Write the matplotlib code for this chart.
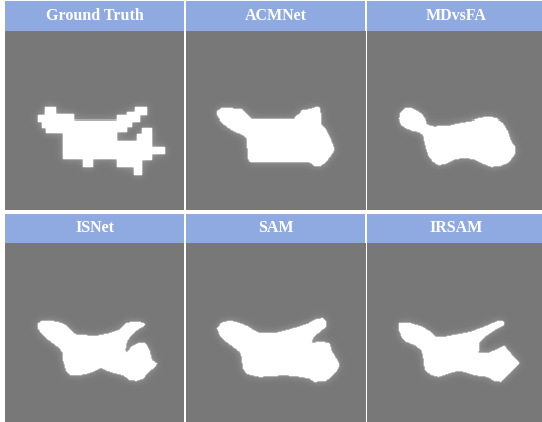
import numpy as np
import matplotlib
matplotlib.use("Agg")
import matplotlib.pyplot as plt
from matplotlib.path import Path

# panel titles
titles = ['Ground Truth', 'ACMNet', 'MDvsFA', 'ISNet', 'SAM', 'IRSAM']

# mask outlines, (x, y) in pixels of each 179 px panel image
gt_outline = [(40, 76.7), (51, 76.7), (51, 84), (69.3, 84), (69.3, 90), (111.7, 90),
              (111.7, 84.7), (121.7, 84.7), (121.7, 82.3), (130, 82.3), (130, 76.7),
              (141.7, 76.7), (141.7, 84.7), (135, 84.7), (135, 90.7), (126.7, 90.7),
              (126.7, 95.7), (121.7, 95.7), (121.7, 100.7), (112.3, 100.7), (112.3, 110),
              (131.7, 110), (131.7, 103.3), (136.7, 103.3), (136.7, 97.3), (146.7, 97.3),
              (146.7, 115.7), (160, 115.7), (160, 123.3), (146.7, 123.3), (146.7, 129),
              (136.7, 129), (136.7, 144), (129, 144), (129, 135.7), (111.7, 135.7),
              (111.7, 128), (87.7, 128), (87.7, 135.7), (77.7, 135.7), (77.7, 128),
              (58.3, 128), (58.3, 102.3), (41, 102.3), (41, 97.3), (36.7, 97.3),
              (36.7, 91.3), (33.3, 91.3), (33.3, 84.7), (40, 84.7)]

acmnet_outline = [(31.3, 80.7), (35.7, 78.3), (44, 78.3), (55.7, 79), (59, 82.3), (64, 87.3),
                  (65.7, 89), (107.3, 89), (109, 85.7), (113.3, 84), (114, 80.7), (124, 79),
                  (130, 76.7), (133.3, 78), (134, 94), (139, 99), (143.3, 107.3), (145.7, 114),
                  (147.3, 119), (144, 124), (139, 130.7), (134, 134.7), (127.3, 134.7),
                  (122.3, 130.7), (64, 130.7), (62.3, 127.3), (60.7, 107.3), (57.3, 104),
                  (45.7, 99), (39, 94), (34, 89), (30.7, 84)]

mdvsfa_outline = [(33, 84), (38, 78), (43.7, 78), (49.7, 80.7), (54.7, 84), (58, 89), (59.7, 94),
                  (66.3, 95.7), (83, 94.7), (93, 92.3), (103, 90.7), (111.3, 88), (119.7, 86.7),
                  (128, 88), (134.7, 92.3), (139.7, 100.7), (143, 110.7), (147, 115.7),
                  (147, 122.3), (141.3, 130.7), (133, 134.7), (123, 135.7), (114.7, 132.3),
                  (106.3, 128), (96.3, 126.7), (88, 128), (79.7, 132.3), (71.3, 134),
                  (66.3, 130.7), (61.3, 124), (58, 112.3), (56.3, 104), (51.3, 100.7),
                  (46.3, 100), (39.7, 97.3), (34.7, 94), (32.3, 89)]

isnet_outline = [(33.3, 80.3), (37.7, 77.7), (45, 77.7), (55, 79.7), (61.7, 83), (66.7, 88.7),
                 (71.7, 92), (91.7, 93), (105, 90.3), (115, 87), (121.7, 80.3), (128.3, 78.7),
                 (138.3, 79.7), (140, 82), (131.7, 87), (125, 93.7), (121.7, 98.7), (120, 107),
                 (121.7, 110.3), (126.7, 103.7), (133.3, 100.3), (140, 99.7), (144.3, 107),
                 (146.7, 117), (151.7, 120.3), (150, 123.7), (143.3, 128.7), (138.3, 135.3),
                 (131.7, 137.7), (125, 137), (118.3, 132), (105, 128.7), (95, 124.3),
                 (91.7, 127), (83.3, 130.3), (75, 132), (65, 132), (61.7, 128.7), (58.3, 117),
                 (58.3, 110.3), (55, 105.3), (48.3, 100.3), (41.7, 95.3), (36.7, 90.3),
                 (33.3, 85.3)]

sam_outline = [(31.3, 85.3), (35.7, 79.7), (44, 77.7), (52.3, 79.7), (60.7, 83), (67.3, 87),
               (74, 90.3), (90.7, 89.7), (100.7, 87), (110.7, 84.3), (120.7, 81), (129, 76.3),
               (135.7, 75.3), (139, 78.7), (139, 83.7), (130.7, 90.3), (125.7, 95.3),
               (124, 100.3), (134, 98.7), (142.3, 100.3), (144.7, 108.7), (149, 115.3),
               (152.3, 122), (149, 128.7), (144, 133.7), (139, 137.7), (127.3, 138.7),
               (122.3, 135.3), (114, 133.7), (97.3, 132), (84, 133), (74, 133.7), (65.7, 132),
               (60.7, 130.3), (57.3, 125.3), (55.7, 113.7), (54, 108.7), (47.3, 103.7),
               (40.7, 98.7), (34, 92)]

irsam_outline = [(32.3, 80.3), (43, 80.3), (54.7, 83.7), (64.7, 89.7), (68, 93.7), (76.3, 94.3),
                 (93, 91), (103, 88.7), (113, 85.3), (123, 81), (131.3, 77.7), (136.3, 78.7),
                 (136.3, 82), (126.3, 87), (116.3, 93.7), (111.3, 98.7), (110.3, 110.3),
                 (119.7, 110.3), (128, 107), (136.3, 103), (141.3, 108.7), (146.3, 115.3),
                 (151.3, 120.3), (146.3, 125.3), (139.7, 132), (133, 138.7), (126.3, 137.7),
                 (119.7, 133.7), (106.3, 132), (93, 127.7), (86.3, 128.7), (79.7, 131),
                 (71.3, 133.7), (64.7, 132), (58, 127), (56.3, 113.7), (54.7, 107), (48, 102),
                 (39.7, 98.7), (34.7, 93.7), (32.3, 87)]

outlines = [gt_outline, acmnet_outline, mdvsfa_outline, isnet_outline, sam_outline, irsam_outline]

W, H = 542, 422
SIZE = 179
BG = 0.47
HEADER = '#8eaae0'


def blur(a, sigma):
    r = int(3 * sigma)
    k = np.exp(-0.5 * (np.arange(-r, r + 1) / sigma) ** 2)
    k /= k.sum()
    a = np.apply_along_axis(lambda v: np.convolve(v, k, mode='same'), 0, a)
    a = np.apply_along_axis(lambda v: np.convolve(v, k, mode='same'), 1, a)
    return a


def render(outline):
    yy, xx = np.mgrid[0:SIZE, 0:SIZE] + 0.5
    pts = np.column_stack([xx.ravel(), yy.ravel()])
    mask = Path(outline).contains_points(pts).reshape(SIZE, SIZE).astype(float)
    mask = np.clip(blur(mask, 0.6) * 1.6, 0, 1)
    glow = blur(mask, 4)
    return BG + (1 - BG) * np.clip(mask + 0.3 * glow, 0, 1)


fig = plt.figure(figsize=(W / 100, H / 100), dpi=100)
fig.patch.set_facecolor('white')

col_x = [5, 186, 367]
rows = [(1, 31), (214, 243)]  # header top, image top

for i, (title, outline) in enumerate(zip(titles, outlines)):
    r, c = divmod(i, 3)
    x0 = col_x[c]
    htop, itop = rows[r]
    # header strip
    hax = fig.add_axes([x0 / W, 1 - itop / H, SIZE / W, (itop - htop) / H])
    hax.set_facecolor(HEADER)
    hax.set_xticks([])
    hax.set_yticks([])
    for s in hax.spines.values():
        s.set_visible(False)
    hax.text(0.5, 0.5, title, color='white', fontsize=11.5, fontweight='bold',
             family='Liberation Serif', ha='center', va='center', transform=hax.transAxes)
    # image
    iax = fig.add_axes([x0 / W, 1 - (itop + SIZE) / H, SIZE / W, SIZE / H])
    iax.imshow(render(outline), cmap='gray', vmin=0, vmax=1, interpolation='nearest',
               extent=(0, SIZE, SIZE, 0))
    iax.set_xlim(0, SIZE)
    iax.set_ylim(SIZE, 0)
    iax.axis('off')

fig.savefig('out.png', dpi=100, facecolor='white')
